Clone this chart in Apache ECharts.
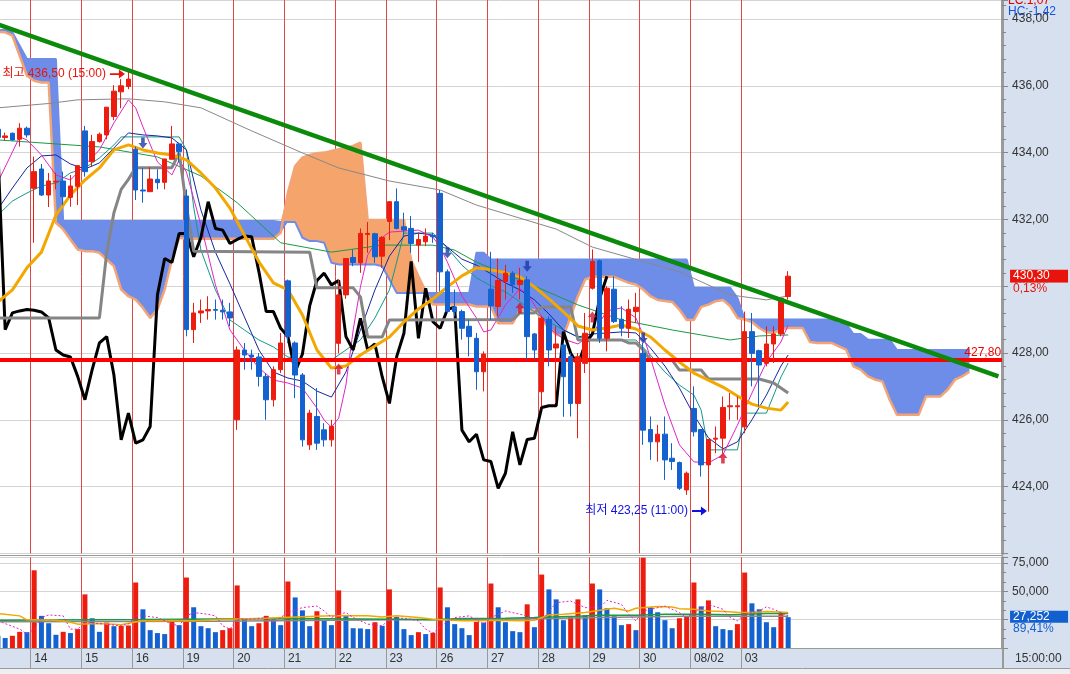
<!DOCTYPE html>
<html><head><meta charset="utf-8">
<script src="https://cdn.jsdelivr.net/npm/echarts/dist/echarts.min.js"></script>
<style>html,body{margin:0;padding:0;background:#fff}#c{width:1070px;height:674px}</style>
</head><body><div id="c"></div><script>
// ---------- data ----------
const dayLabels = ['14','15','16','19','20','21','22','23','26','27','28','29','30','08/02','03'];
const leadBars = 5, barsPerDay = 7, slotCount = 139, chikouShift = 25;

const opens = [434.7,434.45,434.58,434.4,434.73,
432.93,433.51,432.73,433.12,433.15,432.66,432.99,
434.65,433.73,434.33,434.53,435.08,435.82,435.98,
434.1,432.88,432.83,433.2,433.11,433.8,434.26,
432.7,428.7,429.2,429.26,429.3,429.28,429.23,
426.0,428.09,427.94,427.88,427.3,426.6,427.5,
430.16,428.3,427.34,425.25,426.1,425.7,425.4,
428.29,429.74,430.86,430.7,431.55,431.57,430.9,
431.94,432.53,431.78,431.73,431.23,431.33,431.52,
432.78,430.43,429.38,429.24,428.8,428.44,427.44,
429.91,429.39,430.14,430.39,430.05,430.19,428.57,
426.84,429.01,428.15,428.24,427.89,426.49,427.69,
429.94,430.76,428.44,429.91,429.01,428.74,429.24,
427.99,425.71,425.34,425.57,424.85,424.72,423.9,
426.34,425.71,424.65,425.42,425.45,426.39,426.39,
425.79,428.64,428.07,427.69,428.27,428.57,429.69];
const highs = [434.8,434.6,434.6,434.88,434.78,
433.88,433.66,433.39,433.4,433.43,433.33,433.61,
434.8,434.53,434.6,435.36,436.02,436.2,436.5,
434.18,433.54,433.56,433.5,433.81,434.8,434.3,
432.9,429.5,429.6,429.7,429.6,429.6,429.5,
428.2,428.3,428.1,428.0,427.4,427.6,428.6,
430.2,428.35,427.4,426.3,426.95,425.9,426.0,
430.19,430.83,431.1,431.73,431.92,431.6,431.5,
432.53,432.93,432.2,432.1,431.6,431.73,431.6,
432.88,430.5,429.9,429.3,429.0,428.6,428.05,
431.03,430.83,430.64,430.45,430.55,430.3,428.6,
429.1,429.1,428.8,428.3,428.0,428.0,429.2,
431.1,430.8,430.0,430.3,429.4,429.6,429.8,
428.3,426.1,425.85,426.1,425.3,424.75,424.45,
427.0,425.72,425.41,425.8,426.7,426.8,426.7,
429.24,429.2,428.1,428.8,428.8,429.64,430.45];
const lows = [434.3,434.35,434.35,434.18,434.45,
431.3,432.7,432.37,432.9,432.43,432.38,432.43,
433.28,433.58,434.3,434.4,434.97,435.33,435.9,
432.58,432.5,432.83,432.9,432.9,433.8,433.7,
428.5,428.3,428.9,429.0,429.0,429.0,428.8,
425.7,427.5,427.5,427.0,426.0,426.4,427.4,
428.3,426.65,425.2,425.1,425.1,425.2,425.2,
427.99,429.62,430.6,430.4,431.0,430.7,430.55,
431.38,431.7,431.5,431.0,430.73,431.2,431.3,
429.84,429.2,429.1,428.4,427.9,426.9,426.85,
428.99,429.1,429.6,429.8,429.6,427.79,427.8,
426.4,427.6,426.5,426.09,426.1,425.45,427.4,
429.9,428.3,428.05,428.9,428.5,428.45,428.9,
425.25,424.8,424.75,424.2,424.5,423.9,423.75,
425.5,424.3,423.25,425.0,425.0,426.0,426.0,
425.6,427.0,426.4,427.6,427.7,428.5,429.6];
const closes = [434.45,434.5,434.38,434.73,434.53,
433.43,432.73,433.15,433.14,432.68,433.0,433.61,
433.43,434.33,434.55,435.36,435.84,436.0,436.2,
432.88,432.85,433.21,433.1,433.81,434.26,434.03,
428.7,429.2,429.26,429.3,429.28,429.23,429.05,
428.09,427.94,427.88,427.3,426.6,427.5,428.3,
428.49,427.34,425.4,426.2,425.3,425.4,425.8,
429.74,430.83,430.71,431.58,431.58,430.88,431.46,
432.53,431.73,431.68,431.28,431.4,431.5,431.48,
430.43,429.24,429.24,428.74,428.49,427.44,427.97,
429.41,430.17,430.39,430.04,430.17,428.49,428.09,
429.04,428.09,428.27,427.29,426.49,427.89,428.59,
430.74,428.44,429.94,428.94,428.74,429.31,429.37,
425.69,425.34,425.57,424.8,424.75,423.95,424.4,
425.64,424.65,425.41,425.45,426.37,426.42,426.42,
428.64,427.99,427.64,428.27,428.57,429.64,430.3];
const volumes = [10800,8800,10800,14300,14000,
68700,28400,21900,11700,14300,13200,16700,
47400,26300,14300,22500,19300,19600,19900,
57900,34200,15800,13200,12300,23100,20200,
62300,36000,19300,17500,14000,15800,17500,
55300,26000,19300,21900,28400,25400,20200,
58800,44700,33300,19300,32500,24000,20200,
50900,28400,17500,17300,16700,22800,19600,
51800,27500,16700,11400,14000,12300,13500,
53500,36000,21100,17500,11400,23000,22500,
57000,36000,22800,14900,14000,38600,18400,
64900,51800,43000,24600,27200,43000,28900,
57000,51800,35100,28100,20200,21100,15800,
79800,36000,31600,24600,17500,26300,28100,
57900,36800,42100,19300,16700,15800,21100,
66700,39500,34200,22800,18400,31900,27252];

// Ichimoku leading spans (bars 0..134)
const spanA = [437.62,437.6,437.5,436.9,436.3,436.15,436.1,436.1,431.9,431.7,
431.4,431.1,431.05,431.05,431.0,430.8,430.6,429.9,429.7,429.6,
429.35,429.05,429.3,429.9,430.8,431.45,431.42,431.42,431.42,431.42,
431.42,431.42,431.42,431.42,431.42,431.42,431.42,431.42,431.42,431.6,
432.8,433.6,433.85,433.93,433.98,434.0,434.05,434.1,434.15,434.2,
434.3,431.98,431.98,431.98,431.98,431.98,431.98,430.78,430.3,429.85,
429.45,429.45,429.45,429.45,429.45,429.45,429.39,429.39,429.39,428.89,
428.89,428.89,429.29,429.29,429.29,429.0,428.75,428.55,428.49,429.1,
429.7,430.2,430.28,430.28,430.28,430.28,430.19,430.1,430.05,429.9,
429.7,429.59,429.56,429.53,429.3,428.99,428.99,429.38,429.45,429.55,
429.59,429.4,429.05,429.0,428.93,428.75,428.62,428.6,428.7,428.75,
428.75,428.75,428.33,428.3,428.3,428.3,428.2,428.1,427.6,427.5,
427.3,427.2,427.15,426.6,426.15,426.15,426.15,426.15,426.7,426.7,
426.7,426.9,427.2,427.3,427.44];
const spanB = [437.67,437.67,437.6,437.2,436.8,436.8,436.8,436.8,436.8,431.95,
431.95,431.95,431.95,431.95,431.95,431.95,431.95,431.95,431.95,431.95,
431.95,431.95,431.95,431.95,431.95,431.95,431.95,431.95,431.95,431.95,
431.95,431.95,431.95,431.95,431.95,431.95,431.95,431.95,431.95,431.92,
431.92,431.92,431.45,431.35,431.35,431.3,430.7,430.65,430.65,430.65,
430.65,430.65,430.65,430.6,430.2,429.8,429.8,429.8,429.8,429.8,
429.8,429.8,429.8,429.8,429.8,429.8,431.0,431.0,430.8,430.8,
430.8,430.8,430.8,430.8,430.8,430.8,430.8,430.8,430.8,430.8,
430.8,430.8,430.8,430.8,430.8,430.8,430.8,430.8,430.8,430.8,
430.8,430.8,430.8,430.8,430.8,430.8,429.95,429.95,429.95,429.95,
429.95,429.95,429.65,429.0,429.0,429.0,429.0,429.0,429.0,429.0,
429.0,429.0,429.0,429.0,429.0,429.0,428.87,428.87,428.57,428.57,
428.4,428.4,428.4,428.4,428.09,428.09,428.09,428.09,428.09,428.09,
428.09,428.09,428.09,428.09,428.09];

// indicator lines: [bar, price]
const kijun = [[0,429.05],[14,429.05],[15,431.0],[16,432.2],[17,432.9],[18,433.2],[19,433.55],[24,433.55],[25,434.0],[26,432.4],[27,431.05],[43,431.02],[44,429.95],[49,429.95],[50,429.68],[51,428.48],[53,428.48],[54,428.99],[71,429.0],[72,429.2],[74,429.2],[75,429.38],[79,429.38],[80,428.39],[86,428.39],[87,428.3],[88,428.3],[89,428.09],[90,427.79],[93,427.79],[94,427.49],[97,427.49],[98,427.22],[105,427.22],[106,427.16],[107,427.1],[108,426.95],[109,426.8]];
const tenkan = [[0,432.13],[2,432.55],[4,432.79],[6,433.0],[8,433.09],[10,433.39],[12,433.54],[14,433.84],[16,434.23],[17,434.47],[25,434.47],[26,434.08],[27,432.37],[28,431.08],[30,429.89],[32,428.99],[34,428.69],[36,428.39],[38,428.18],[40,427.88],[42,427.79],[46,427.79],[48,428.09],[50,428.39],[52,429.05],[54,429.89],[55,430.72],[56,431.59],[60,431.59],[62,431.14],[64,430.63],[66,430.25],[68,430.01],[70,429.83],[74,429.23],[76,428.93],[78,428.69],[80,428.48],[82,428.39],[88,428.39],[90,427.94],[92,427.43],[94,427.04],[96,426.74],[97,426.29],[98,425.1],[102,425.1],[103,426.2],[106,426.2],[108,427.28],[109,427.7]];
const ma5 = [[0,433.12],[2,434.02],[3,434.47],[4,434.38],[6,433.93],[8,433.33],[10,433.18],[12,433.63],[14,434.08],[16,434.89],[18,435.58],[19,435.34],[20,434.77],[22,433.72],[24,433.33],[25,433.78],[26,433.42],[28,431.83],[30,430.04],[32,428.69],[34,428.09],[36,427.55],[38,427.19],[40,427.1],[42,426.95],[44,426.35],[45,425.99],[46,425.78],[47,426.05],[48,427.04],[49,428.69],[50,429.98],[51,430.93],[52,431.29],[54,431.62],[56,431.65],[58,431.68],[60,431.47],[61,431.17],[62,430.72],[64,429.71],[66,429.05],[67,428.63],[68,428.69],[70,429.44],[72,429.92],[73,429.77],[74,429.44],[76,428.75],[78,428.42],[80,428.27],[82,428.57],[84,429.26],[86,429.35],[88,429.05],[89,428.54],[90,427.85],[92,426.44],[94,425.25],[96,424.74],[98,424.71],[100,424.95],[102,425.84],[104,426.8],[106,427.73],[108,428.33],[109,428.84]];
const ma10 = [[0,432.31],[2,432.94],[4,433.54],[6,433.9],[8,433.93],[10,433.66],[12,433.51],[14,433.69],[16,434.14],[18,434.59],[20,434.53],[22,434.5],[24,434.44],[26,434.08],[28,432.28],[30,431.02],[32,430.07],[34,429.08],[36,428.09],[38,427.43],[40,427.25],[42,427.16],[44,426.86],[46,426.68],[48,427.43],[50,428.69],[52,429.89],[54,430.9],[56,431.5],[58,431.59],[60,431.53],[62,431.17],[64,430.81],[66,430.63],[68,430.37],[70,430.1],[72,429.89],[74,429.59],[76,429.17],[78,428.69],[80,428.48],[82,428.57],[84,428.6],[86,428.63],[88,428.6],[90,428.15],[92,427.61],[94,426.95],[96,426.14],[98,425.46],[100,425.13],[102,425.34],[104,426.0],[106,426.74],[108,427.61],[109,427.94]];
const ma20 = [[0,429.53],[2,429.89],[4,430.55],[6,431.02],[8,432.13],[10,432.73],[12,433.18],[14,433.54],[16,434.08],[18,434.23],[20,434.08],[22,433.99],[24,433.93],[26,433.78],[28,433.39],[30,432.94],[32,432.34],[34,431.53],[36,430.73],[38,430.1],[40,429.89],[42,429.14],[44,428.09],[46,427.55],[48,427.61],[50,427.94],[52,428.21],[54,428.48],[56,428.93],[58,429.32],[60,429.62],[62,429.98],[64,430.31],[66,430.55],[68,430.49],[70,430.4],[72,430.28],[74,429.98],[76,429.62],[78,429.23],[80,428.81],[82,428.69],[84,428.75],[86,428.84],[88,428.72],[90,428.48],[92,428.09],[94,427.73],[96,427.4],[98,427.19],[100,426.98],[102,426.71],[104,426.47],[106,426.35],[108,426.29],[109,426.53]];
const ma60 = [[0,434.38],[14,434.17],[22,433.87],[28,433.3],[33,432.5],[39,431.3],[46,431.02],[53,431.23],[60,431.23],[63,431.08],[66,430.72],[72,430.19],[80,429.44],[86,428.99],[93,428.69],[97,428.54],[101,428.39],[105,428.51],[109,428.54]];
const ma120 = [[0,435.34],[7,435.47],[11,435.58],[18,435.61],[23,435.52],[28,435.34],[35,434.65],[42,433.99],[47,433.54],[54,433.15],[61,432.88],[66,432.43],[77,431.71],[82,431.17],[94,430.43],[101,429.74],[106,429.59],[109,429.71]];

// volume averages
const volMa5 = [[0,24000],[3,16700],[4,12300],[5,16700],[6,26900],[7,29200],[9,28400],[10,16700],[11,16700],[12,22500],[14,21600],[17,19600],[18,21100],[19,28400],[20,28400],[22,26900],[24,21100],[25,19600],[26,28400],[27,31300],[29,29800],[30,28400],[31,19600],[32,16700],[33,25400],[35,25400],[37,26900],[38,22500],[40,31300],[42,35700],[44,37100],[45,32700],[46,26900],[47,29800],[48,31300],[49,26900],[51,21100],[53,19600],[54,25400],[55,26900],[57,25400],[58,24000],[59,16700],[60,13200],[62,24000],[63,26900],[65,28400],[67,21100],[68,26900],[70,32700],[73,28400],[75,24000],[77,40100],[79,41500],[81,35700],[83,35700],[84,42100],[86,38600],[87,29800],[88,24000],[89,32700],[92,37100],[94,31300],[95,26900],[96,31300],[98,38600],[100,34200],[101,26900],[102,24000],[103,29800],[105,32700],[106,36300],[107,34200],[109,28400]];
const volMa20 = [[0,30400],[3,28400],[4,24900],[8,24600],[10,22800],[11,21100],[14,21600],[17,20500],[18,21900],[20,24000],[24,24300],[27,24000],[33,25700],[37,26300],[41,27500],[46,28400],[51,28400],[53,27500],[55,28400],[58,26900],[60,25400],[64,24000],[66,24000],[69,24600],[72,24000],[74,24600],[76,29200],[78,29800],[81,31300],[83,33300],[85,35100],[87,32700],[88,35100],[91,36600],[93,36300],[94,34800],[96,34200],[98,32700],[100,32200],[102,31600],[104,31300],[106,32200],[109,31300]];
const volMa60 = [[0,24600],[20,25100],[40,26000],[55,25400],[60,24900],[64,26000],[70,26300],[74,26900],[80,28100],[83,28900],[88,28900],[92,29800],[97,29800],[101,29500],[106,30400],[109,30400]];
const volMa120 = [[0,23100],[30,23700],[55,24900],[70,25400],[83,26900],[95,28100],[109,28100]];

const sellSignals = [[20,434.29],[62,431.0],[73,430.6],[89,428.45]];
const buySignals = [[47,427.52],[72,429.35],[82,429.08],[100,424.86]];
const trendLine = [[0,437.84],[138,427.30]];
const supportLevel = 427.80;
const highMark = {bar: 18, price: 436.35, text: '최고 436,50 (15:00)'};
const lowMark = {bar: 98, price: 423.27, text: '최저 423,25 (11:00)'};
const lastPrice = 430.30, lastChange = '0,13%';
const lastVolume = 27252, volumeRatio = '89,41%';

// ---------- derived ----------
const RED = '#ec1c0e', BLUE = '#1462d0', PANEL = '#d6e0ee';
const dayStarts = dayLabels.map((_, d) => leadBars + d * barsPerDay);
const slots = Array.from({length: slotCount}, (_, i) => String(i));
const isDayStart = i => dayStarts.indexOf(Number(i)) >= 0;
const labelOf = i => { const d = dayStarts.indexOf(Number(i)); return d < 0 ? '' : dayLabels[d]; };
const fmt2 = v => v.toFixed(2).replace('.', ',');
const candles = opens.map((o, i) => [o, closes[i], lows[i], highs[i]]);
const lagging = closes.slice(chikouShift).map((c, i) => [i, c]);
const cloudLow = spanA.map((a, i) => Math.min(a, spanB[i]));
const cloudBear = spanA.map((a, i) => Math.max(spanB[i] - a, 0));
const cloudBull = spanA.map((a, i) => Math.max(a - spanB[i], 0));
const FONT = '"Liberation Sans","Noto Sans CJK KR",sans-serif';
const HIDDEN = {color: 'rgba(0,0,0,0)', width: 1, type: 'solid'};

const chart = echarts.init(document.getElementById('c'));
const line = (data, color, width, z, extra) => Object.assign({
  type: 'line', data, symbol: 'none', showSymbol: false, silent: true,
  lineStyle: {color, width}, z, animation: false
}, extra || {});
const tag = (text, color, bg, dy) => ({
  show: true, position: 'end', distance: 8, offset: [0, dy], formatter: text,
  color, backgroundColor: bg, width: 52, padding: [1, 3, 0, 3], fontSize: 12, lineHeight: 12,
  align: 'left', fontFamily: FONT
});

const xBase = {
  type: 'category', data: slots, boundaryGap: true,
  splitLine: {show: true, interval: (i) => isDayStart(i), lineStyle: {color: '#e04848', width: 1}}
};

chart.setOption({
  animation: false,
  backgroundColor: '#ffffff',
  textStyle: {fontFamily: FONT},
  grid: [
    {left: -5.7, top: 0, width: 1007.75, height: 553.4, outerBoundsMode: 'none', containLabel: false},
    {left: -5.7, top: 557.5, width: 1007.75, height: 90.5, outerBoundsMode: 'none', containLabel: false}
  ],
  xAxis: [
    Object.assign({}, xBase, {gridIndex: 0, axisLine: {show: false}, axisTick: {show: false}, axisLabel: {show: false}}),
    Object.assign({}, xBase, {gridIndex: 1,
      axisLine: {show: true, lineStyle: {color: '#9a9a9a'}},
      axisTick: {show: true, interval: (i) => isDayStart(i), length: 20, lineStyle: {color: '#9a9a9a'}},
      axisLabel: {show: true, interval: (i) => isDayStart(i), formatter: (v) => labelOf(v), align: 'left', color: '#333', fontSize: 12, margin: 5, fontFamily: FONT}
    })
  ],
  yAxis: [
    {gridIndex: 0, type: 'value', position: 'right', offset: 0, min: 422, max: 438.569, interval: 2,
     axisLine: {show: true, lineStyle: {color: '#9a9a9a', width: 3}},
     axisTick: {show: true, length: 6, lineStyle: {color: '#888'}},
     minorTick: {show: true, splitNumber: 5, length: 4, lineStyle: {color: '#888'}},
     axisLabel: {color: '#333', fontSize: 12, margin: 10, formatter: fmt2, showMinLabel: false, showMaxLabel: false, fontFamily: FONT},
     splitLine: {show: true, lineStyle: {color: '#d4d4d4'}}},
    {gridIndex: 1, type: 'value', position: 'right', offset: 0, min: 0, max: 80000, interval: 25000,
     axisLine: {show: true, lineStyle: {color: '#9a9a9a', width: 3}},
     axisTick: {show: true, length: 6, lineStyle: {color: '#888'}},
     minorTick: {show: true, splitNumber: 3, length: 4, lineStyle: {color: '#888'}},
     axisLabel: {color: '#333', fontSize: 12, margin: 10, fontFamily: FONT,
       formatter: (v) => (v === 50000 || v === 75000) ? v.toLocaleString('en-US') : ''},
     splitLine: {show: true, lineStyle: {color: '#d4d4d4'}}}
  ],
  graphic: {elements: [
    {type: 'rect', shape: {x: 1003, y: 0, width: 67, height: 674}, style: {fill: PANEL}, z: -10, silent: true},
    {type: 'rect', shape: {x: 0, y: 649, width: 1004, height: 19}, style: {fill: PANEL}, z: -10, silent: true},
    {type: 'rect', shape: {x: 0, y: 668, width: 1070, height: 6}, style: {fill: '#eceef2'}, z: -9, silent: true},
    {type: 'line', shape: {x1: 0, y1: 555.5, x2: 1003, y2: 555.5}, style: {stroke: '#9a9a9a', lineWidth: 1}, silent: true},
    {type: 'line', shape: {x1: 0, y1: 668.5, x2: 1070, y2: 668.5}, style: {stroke: '#9a9a9a', lineWidth: 1}, silent: true},
    {type: 'line', shape: {x1: 1003, y1: 649, x2: 1003, y2: 668}, style: {stroke: '#9a9a9a', lineWidth: 2}, silent: true},
    {type: 'text', x: 1008, y: 1, style: {text: 'LC:1,07', fill: '#e00000', font: '12px ' + FONT, verticalAlign: 'middle'}, silent: true},
    {type: 'text', x: 1008, y: 12, style: {text: 'HC:-1,42', fill: '#1452e0', font: '12px ' + FONT, verticalAlign: 'middle'}, silent: true},
    {type: 'text', x: 1015, y: 659, style: {text: '15:00:00', fill: '#333', font: '12px ' + FONT, verticalAlign: 'middle'}, silent: true}
  ]},
  series: [
    // cloud
    line(cloudLow, 'rgba(0,0,0,0)', 0, 1, {stack: 'cloud'}),
    line(cloudBear, 'rgba(0,0,0,0)', 0, 1, {stack: 'cloud', areaStyle: {color: '#6e8de8', opacity: 1}}),
    line(cloudBull, 'rgba(0,0,0,0)', 0, 1, {stack: 'cloud', areaStyle: {color: '#f5a46c', opacity: 1}}),
    line(spanB, '#6e8de8', 2, 1),
    line(spanA, '#f3a476', 2.5, 1),
    // thin averages
    line(ma120, '#888888', 1, 2),
    line(ma60, '#1a9a44', 1, 2),
    line(tenkan, '#119a88', 1, 2),
    line(ma10, '#16269e', 1, 2),
    line(ma5, '#e026c6', 1, 2),
    // thick lines
    line(lagging, '#000000', 3, 3),
    line(kijun, '#858585', 3, 3),
    line(ma20, '#f2a800', 3, 3),
    {
      type: 'candlestick', data: candles, barWidth: 5, z: 5, silent: true,
      itemStyle: {color: RED, color0: BLUE, borderColor: RED, borderColor0: BLUE, borderColorDoji: RED, borderWidth: 1},
      markPoint: {
        silent: true, animation: false,
        data: [
          {coord: [highMark.bar, highMark.price], symbol: 'path://M0,4 L9,4 L9,0 L15,5 L9,10 L9,6 L0,6 Z', symbolSize: [15, 9], symbolOffset: [-11, 0],
           itemStyle: {color: '#e8140c'}, label: {show: true, position: 'left', distance: 4, formatter: highMark.text, color: '#e8140c', fontSize: 12, fontFamily: FONT}},
          {coord: [lowMark.bar, lowMark.price], symbol: 'path://M0,4 L9,4 L9,0 L15,5 L9,10 L9,6 L0,6 Z', symbolSize: [15, 9], symbolOffset: [-9, 0],
           itemStyle: {color: '#1010e0'}, label: {show: true, position: 'left', distance: 4, formatter: lowMark.text, color: '#1010e0', fontSize: 12, fontFamily: FONT}}
        ]
      },
      markLine: {
        silent: true, animation: false, symbol: ['none', 'none'],
        data: [
          {yAxis: lastPrice, lineStyle: HIDDEN, label: tag(fmt2(lastPrice), '#ffffff', '#e8140c', 0)},
          {yAxis: lastPrice, lineStyle: HIDDEN, label: tag(lastChange, '#e8140c', PANEL, 13)}
        ]
      }
    },
    {type: 'scatter', data: sellSignals, symbol: 'path://M3,0 L7,0 L7,6 L10,6 L5,12 L0,6 L3,6 Z', symbolSize: [9, 11], itemStyle: {color: '#1c38a8'}, z: 6, silent: true},
    {type: 'scatter', data: buySignals, symbol: 'path://M5,0 L10,6 L7,6 L7,12 L3,12 L3,6 L0,6 Z', symbolSize: [9, 11], itemStyle: {color: '#d3142e'}, z: 6, silent: true},
    line(trendLine, '#0c8a0c', 4.5, 8),
    {
      type: 'line', data: [], z: 7, silent: true,
      markLine: {
        silent: true, animation: false, symbol: ['none', 'none'],
        data: [
          {yAxis: supportLevel, lineStyle: {color: '#ff0000', width: 4, type: 'solid'},
           label: {show: true, position: 'insideEndTop', distance: 1, formatter: fmt2(supportLevel), color: '#ee0000', fontSize: 12, fontFamily: FONT}}
        ]
      }
    },
    // volume
    {
      type: 'bar', xAxisIndex: 1, yAxisIndex: 1, data: volumes, barWidth: 5, z: 3, silent: true,
      itemStyle: {color: (p) => (p.dataIndex > 0 && volumes[p.dataIndex] > volumes[p.dataIndex - 1]) ? RED : BLUE},
      markLine: {
        silent: true, animation: false, symbol: ['none', 'none'],
        data: [
          {yAxis: lastVolume, lineStyle: HIDDEN, label: tag(lastVolume.toLocaleString('en-US'), '#ffffff', '#1260d0', 0)},
          {yAxis: lastVolume, lineStyle: HIDDEN, label: tag(volumeRatio, '#1260d0', PANEL, 12)}
        ]
      }
    },
    line(volMa120, '#888888', 1.5, 4, {xAxisIndex: 1, yAxisIndex: 1}),
    line(volMa60, '#1a9a44', 1.5, 4, {xAxisIndex: 1, yAxisIndex: 1}),
    line(volMa20, '#f2a800', 1.5, 4, {xAxisIndex: 1, yAxisIndex: 1}),
    line(volMa5, '#e026c6', 1, 4, {xAxisIndex: 1, yAxisIndex: 1, lineStyle: {color: '#e026c6', width: 1, type: [2, 2]}})
  ]
});
</script></body></html>
